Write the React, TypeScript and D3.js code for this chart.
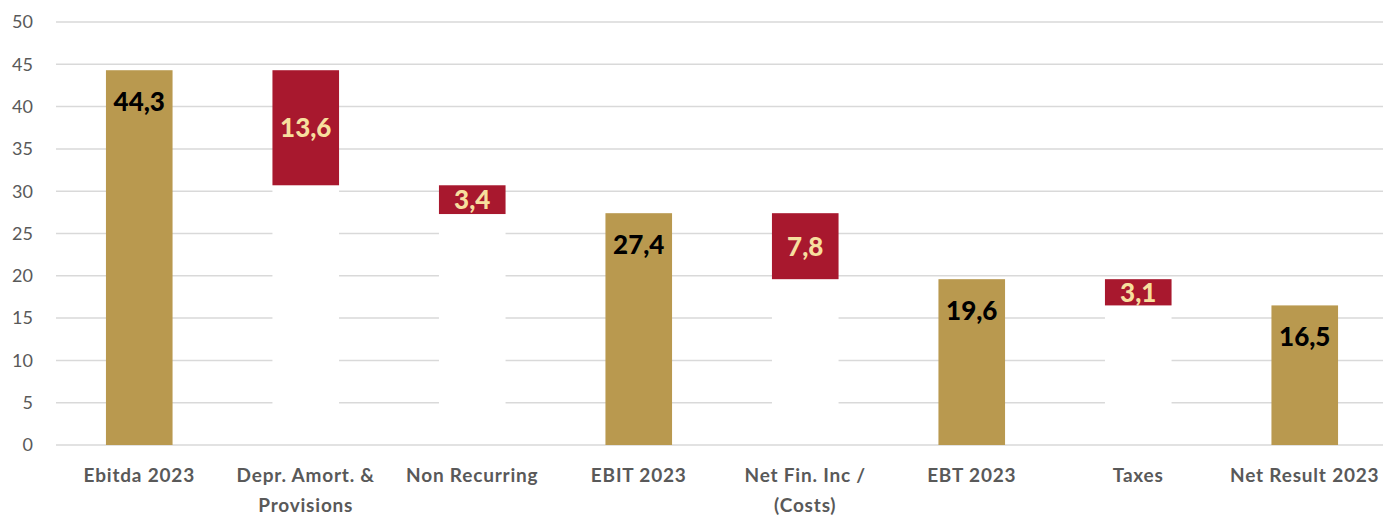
import React from 'react'
import * as d3 from 'd3'

const categories = [
  ['Ebitda 2023'],
  ['Depr. Amort. &', 'Provisions'],
  ['Non Recurring'],
  ['EBIT 2023'],
  ['Net Fin. Inc /', '(Costs)'],
  ['EBT 2023'],
  ['Taxes'],
  ['Net Result 2023'],
]
const values = [44.3, 13.6, 3.4, 27.4, 7.8, 19.6, 3.1, 16.5]
// 'total' bars start at zero, 'delta' bars hang down from the running level
const kinds = ['total', 'delta', 'delta', 'total', 'delta', 'total', 'delta', 'total']
const yTicks = [0, 5, 10, 15, 20, 25, 30, 35, 40, 45, 50]

const W = 1383
const H = 515
const GOLD = '#B9994F'
const RED = '#A8182E'
const GRID = '#D9D9D9'
const TEXT = '#595959'
const FONT = 'Lato, "Open Sans", sans-serif'

export default function App() {
  const margin = { top: 22, right: -5, bottom: 70, left: 56 }
  const x = d3.scaleBand<number>()
    .domain(values.map((_, i) => i))
    .range([margin.left, W - margin.right])
    .paddingInner(0.6)
    .paddingOuter(0.3)
  const y = d3.scaleLinear().domain([0, 50]).range([H - margin.bottom, margin.top])

  // running level for the waterfall
  let level = 0
  const bars = values.map((v, i) => {
    if (kinds[i] === 'total') {
      level = v
      return { i, lo: 0, hi: v, kind: 'total', v }
    }
    const hi = level
    level = level - v
    return { i, lo: level, hi, kind: 'delta', v }
  })

  const fmt = (v: number) => d3.format('.1f')(v).replace('.', ',')

  return (
    <svg width={W} height={H} style={{ position: 'absolute', left: 0, top: 0 }}>
      <rect width={W} height={H} fill="#fff" />
      {yTicks.map((t) => (
        <g key={t}>
          <line x1={margin.left} x2={W} y1={y(t)} y2={y(t)} stroke={GRID} strokeWidth={1.5} />
          <text x={33} y={y(t)} dy="0.35em" textAnchor="end" fontFamily={FONT} fontSize={18} fill={TEXT}>
            {t}
          </text>
        </g>
      ))}
      {bars.map((b) => {
        const bx = x(b.i) as number
        const bw = x.bandwidth()
        const cx = bx + bw / 2
        const top = y(b.hi)
        const bottom = y(b.lo)
        const isTotal = b.kind === 'total'
        return (
          <g key={b.i}>
            {!isTotal && b.lo > 0 && (
              <rect x={bx} y={bottom} width={bw} height={y(0) - bottom - 1} fill="#fff" />
            )}
            <rect x={bx} y={top} width={bw} height={bottom - top} fill={isTotal ? GOLD : RED} />
            <text
              x={cx}
              y={isTotal ? top + 31 : (top + bottom) / 2}
              dy="0.36em"
              textAnchor="middle"
              fontFamily={FONT}
              fontWeight={900}
              fontSize={26}
              fill={isTotal ? '#000' : '#F7DF9E'}
            >
              {fmt(b.v)}
            </text>
          </g>
        )
      })}
      {categories.map((lines, i) => (
        <text
          key={i}
          x={(x(i) as number) + x.bandwidth() / 2}
          y={482}
          textAnchor="middle"
          fontFamily={FONT}
          fontWeight={700}
          fontSize={19}
          letterSpacing={0.8}
          fill={TEXT}
        >
          {lines.map((l, j) => (
            <tspan key={j} x={(x(i) as number) + x.bandwidth() / 2} dy={j === 0 ? 0 : 30}>
              {l}
            </tspan>
          ))}
        </text>
      ))}
    </svg>
  )
}
